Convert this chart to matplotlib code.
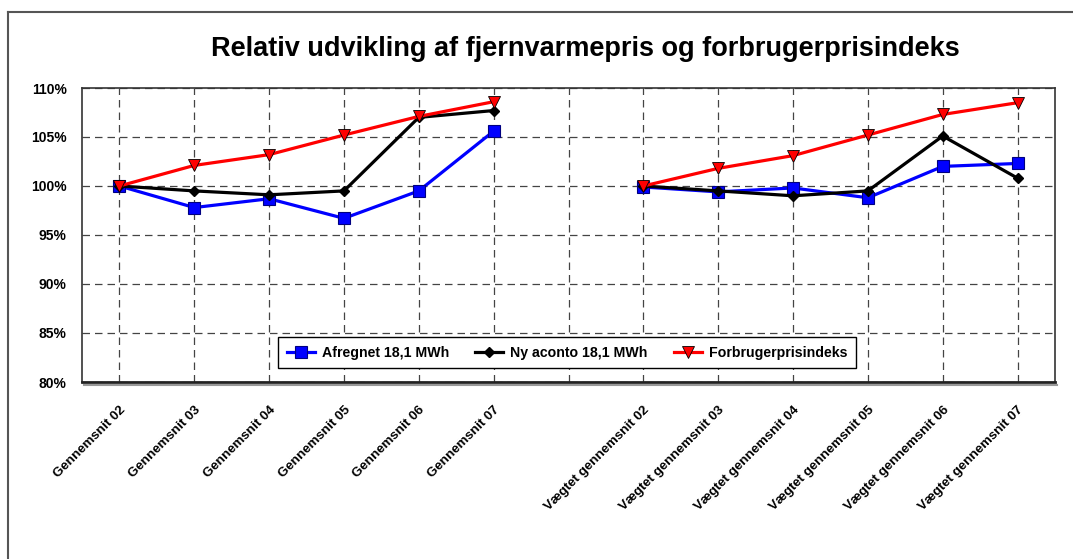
import numpy as np
import matplotlib
matplotlib.use("Agg")
import matplotlib.pyplot as plt
from matplotlib.lines import Line2D
from matplotlib.ticker import FuncFormatter
import matplotlib.transforms as mtransforms

plt.rcParams['font.family'] = ['Liberation Sans', 'DejaVu Sans']

categories = ["Gennemsnit 02", "Gennemsnit 03", "Gennemsnit 04", "Gennemsnit 05",
              "Gennemsnit 06", "Gennemsnit 07", "",
              "Vægtet gennemsnit 02", "Vægtet gennemsnit 03", "Vægtet gennemsnit 04",
              "Vægtet gennemsnit 05", "Vægtet gennemsnit 06", "Vægtet gennemsnit 07"]
nan = np.nan
afregnet = [100.0, 97.8, 98.7, 96.7, 99.5, 105.6, nan,
            99.9, 99.4, 99.8, 98.8, 102.0, 102.3]
ny_aconto = [100.0, 99.5, 99.1, 99.5, 107.0, 107.7, nan,
             100.0, 99.5, 99.0, 99.5, 105.1, 100.8]
forbruger = [100.0, 102.1, 103.2, 105.2, 107.1, 108.6, nan,
             100.0, 101.8, 103.1, 105.2, 107.3, 108.5]
series_names = ["Afregnet 18,1 MWh", "Ny aconto 18,1 MWh", "Forbrugerprisindeks"]
yticks = [80, 85, 90, 95, 100, 105, 110]
title = "Relativ udvikling af fjernvarmepris og forbrugerprisindeks"

W, H = 1073, 559
fig = plt.figure(figsize=(W / 100, H / 100), dpi=100)
ax = fig.add_axes([82 / W, 1 - 382 / H, (1055 - 82) / W, (382 - 88) / H])

x = np.arange(len(categories))
ax.plot(x, afregnet, color='#0000FF', lw=2.3, marker='s', ms=8,
        mfc='#0000FF', mec='#000080', mew=0.8, label=series_names[0], zorder=3)
ax.plot(x, ny_aconto, color='black', lw=2.3, marker='D', ms=5.5,
        mfc='black', mec='black', label=series_names[1], zorder=4)
ax.plot(x, forbruger, color='#FF0000', lw=2.3, marker='v', ms=8,
        mfc='#FF0000', mec='#000000', mew=0.6, label=series_names[2], zorder=5)

ax.set_xlim(-0.5, len(categories) - 0.5)
ax.set_ylim(80, 110)
ax.set_yticks(yticks)
ax.yaxis.set_major_formatter(FuncFormatter(lambda v, p: f"{v:.0f}%"))
ax.set_xticks(x)
ax.set_xticklabels(categories, rotation=45, ha='right', va='top',
                   rotation_mode='anchor', fontsize=9.6, fontweight='bold')
offset = mtransforms.ScaledTranslation(-3 / 100, 0, fig.dpi_scale_trans)
for lab in ax.get_xticklabels():
    lab.set_transform(lab.get_transform() + offset)
for lab in ax.get_yticklabels():
    lab.set_fontweight('bold')
    lab.set_fontsize(10)
ax.tick_params(axis='both', length=0)
ax.tick_params(axis='y', pad=11)
ax.tick_params(axis='x', pad=16)

ax.grid(True, which='major', axis='both', color='#444444', lw=0.9,
        linestyle=(0, (6, 4)))
ax.set_axisbelow(True)
for s in ['top', 'right', 'left']:
    ax.spines[s].set_color('#333333')
    ax.spines[s].set_linewidth(1.2)
ax.spines['bottom'].set_color('#222222')
ax.spines['bottom'].set_linewidth(2.0)
# shadow under plot area
fig.add_artist(Line2D([84 / W, 1057 / W], [1 - 384.5 / H, 1 - 384.5 / H],
                      color='#999999', lw=1.5))

fig.text(585 / W, 1 - 49 / H, title, ha='center', va='center',
         fontsize=19.5, fontweight='bold')

leg = ax.legend(loc='center', ncol=3, mode='expand',
                bbox_to_anchor=(278 / W, 1 - 370 / H, 578 / W, 35 / H),
                bbox_transform=fig.transFigure, frameon=True, fancybox=False,
                edgecolor='black', framealpha=1, prop={'weight': 'bold', 'size': 10.2},
                handlelength=2.0, handletextpad=0.5, columnspacing=1.0,
                borderpad=0.6, borderaxespad=0)
leg.get_frame().set_linewidth(1.0)

# outer chart border (left & top)
fig.add_artist(Line2D([8 / W, 8 / W], [0, 1 - 12 / H], color='#555555', lw=1.5))
fig.add_artist(Line2D([8 / W, 1], [1 - 12 / H, 1 - 12 / H], color='#555555', lw=1.5))

fig.savefig("out.png", dpi=100)
